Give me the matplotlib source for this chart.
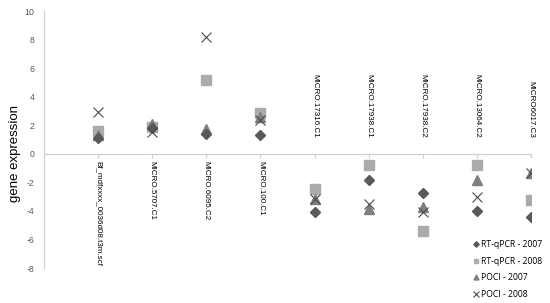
import matplotlib
matplotlib.use("Agg")
import matplotlib.pyplot as plt

categories = ["Bf_mdfxxxx_0036d08.t3m.scf", "MICRO.5707.C1", "MICRO.6095.C2",
              "MICRO.100.C1", "MICRO.17316.C1", "MICRO.17938.C1", "MICRO.17938.C2",
              "MICRO.13064.C2", "MICRO6017.C3"]
rt_2007 = [1.1, 1.8, 1.4, 1.35, -4.05, -1.8, -2.75, -4.0, -4.45]
rt_2008 = [1.6, 1.9, 5.2, 2.85, -2.45, -0.75, -5.4, -0.8, -3.25]
poci_2007 = [1.3, 2.1, 1.75, 2.6, -3.2, -3.9, -3.75, -1.8, -1.35]
poci_2008 = [2.9, 1.5, 8.2, 2.35, -3.2, -3.5, -4.05, -3.0, -1.35]
label_above = [False, False, False, False, True, True, True, True, True]
yticks = [-8, -6, -4, -2, 0, 2, 4, 6, 8, 10]

fig = plt.figure(figsize=(5.5, 3.03), dpi=100)
ax = fig.add_axes([0.08, 0.1155, 0.8855, 0.848])
x = list(range(len(categories)))

ax.plot(x, rt_2007, ls="none", marker="D", ms=5, color="#595959", mec="#595959", label="RT-qPCR - 2007", zorder=4)
ax.plot(x, rt_2008, ls="none", marker="s", ms=6.5, color="#ababab", mec="#ababab", label="RT-qPCR - 2008", zorder=3)
ax.plot(x, poci_2007, ls="none", marker="^", ms=6.5, color="#7f7f7f", mec="#7f7f7f", label="POCI - 2007", zorder=3)
ax.plot(x, poci_2008, ls="none", marker="x", ms=7, mew=0.8, color="#4a4a4a", label="POCI - 2008", zorder=5)

ax.set_xlim(-1, 8)
ax.set_ylim(-8, 10)
ax.set_yticks(yticks)
ax.set_yticklabels([str(v) for v in yticks], fontsize=6.3, color="#595959", family="Liberation Sans")
ax.tick_params(axis="y", length=0, pad=7)
ax.set_xticks(x)
ax.set_xticklabels([])
ax.tick_params(axis="x", length=3, width=0.8, color="#d0d0d0", direction="out")

for s in ["top", "right"]:
    ax.spines[s].set_visible(False)
ax.spines["left"].set_color("#d0d0d0")
ax.spines["bottom"].set_color("#d0d0d0")
ax.spines["bottom"].set_position(("data", 0))
ax.spines["left"].set_linewidth(0.9)
ax.spines["bottom"].set_linewidth(0.9)

for xi, lab, above in zip(x, categories, label_above):
    if above:
        ax.text(xi, 1.1, lab, rotation=270, ha="center", va="bottom", fontsize=5.8,
                family="Liberation Sans", color="#000000")
    else:
        ax.text(xi, -0.5, lab, rotation=270, ha="center", va="top", fontsize=5.8,
                family="Liberation Sans", color="#000000")

fig.text(0.028, 1 - 154 / 303, "gene expression", rotation=90, ha="center", va="center",
         fontsize=9.5, family="Liberation Sans")

leg = fig.legend(loc="upper left", bbox_to_anchor=(0.853, 0.222), frameon=False,
                 prop={"family": "Open Sans", "size": 6.2}, handlelength=0.5,
                 handletextpad=0.35, labelspacing=0.88, borderpad=0, markerscale=0.55)

fig.savefig("out.png", dpi=100)
